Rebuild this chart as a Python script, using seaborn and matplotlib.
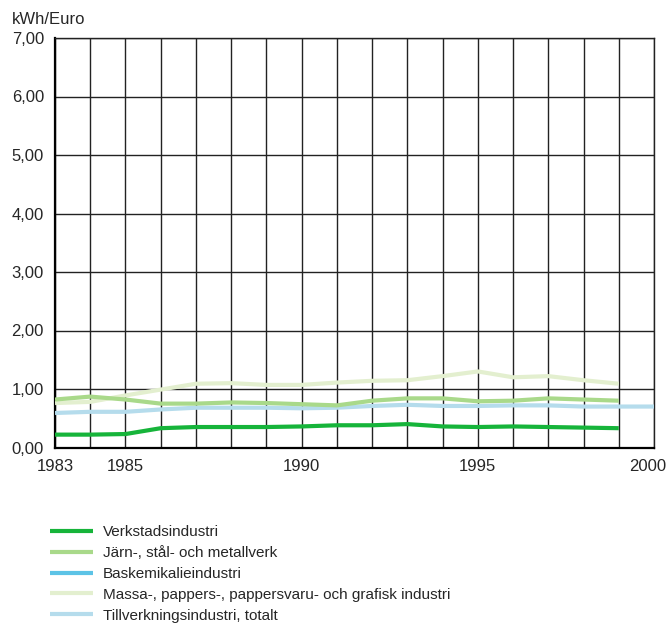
import pandas as pd
import numpy as np
import matplotlib
matplotlib.use("Agg")
import matplotlib.pyplot as plt
import matplotlib.transforms as mtransforms
from matplotlib.lines import Line2D
import seaborn as sns

years = list(range(1983, 2000))
years_total = list(range(1983, 2001))

verkstad = [0.22, 0.22, 0.23, 0.33, 0.35, 0.35, 0.35, 0.36, 0.38, 0.38, 0.40, 0.36, 0.35, 0.36, 0.35, 0.34, 0.33]
jarn = [0.82, 0.87, 0.82, 0.75, 0.75, 0.77, 0.76, 0.74, 0.72, 0.80, 0.84, 0.84, 0.79, 0.80, 0.84, 0.82, 0.80]
massa = [0.76, 0.78, 0.89, 0.99, 1.09, 1.10, 1.07, 1.07, 1.11, 1.14, 1.15, 1.22, 1.30, 1.20, 1.22, 1.15, 1.09]
totalt = [0.59, 0.61, 0.61, 0.65, 0.68, 0.68, 0.68, 0.67, 0.68, 0.71, 0.73, 0.71, 0.71, 0.72, 0.72, 0.70, 0.70, 0.70]

names = ["Verkstadsindustri",
         "Järn-, stål- och metallverk",
         "Baskemikalieindustri",
         "Massa-, pappers-, pappersvaru- och grafisk industri",
         "Tillverkningsindustri, totalt"]
colors = ["#16b43a", "#a9d98a", "#5cc3e6", "#e3efcf", "#b5dcec"]

frames = []
for name, xs, ys in [(names[4], years_total, totalt),
                     (names[3], years, massa),
                     (names[1], years, jarn),
                     (names[0], years, verkstad)]:
    frames.append(pd.DataFrame({"year": xs, "value": ys, "serie": name}))
df = pd.concat(frames)

sns.set_style("white")
plt.rcParams["font.family"] = ["Liberation Sans", "DejaVu Sans"]

fig = plt.figure(figsize=(6.71, 6.25), dpi=100)
ax = fig.add_axes([0.082, 0.284, 0.8927, 0.6552])

pal = dict(zip(names, colors))
sns.lineplot(data=df, x="year", y="value", hue="serie", palette=pal,
             linewidth=3.0, legend=False, ax=ax, zorder=3)
for ln in ax.lines:
    ln.set_solid_capstyle("butt")

ax.set_xlim(1983, 2000)
ax.set_ylim(0, 7)
ax.set_xticks(np.arange(1983, 2001), minor=True)
ax.set_xticks([1983, 1985, 1990, 1995, 2000])
ax.set_yticks(np.arange(0, 8))
ax.set_yticklabels([f"{v:.2f}".replace(".", ",") for v in range(0, 8)])
ax.grid(True, which="both", axis="x", color="#222222", linewidth=1.0)
ax.grid(True, axis="y", color="#222222", linewidth=1.0)
ax.tick_params(axis="both", which="both", length=0, labelsize=12)
ax.tick_params(axis="x", pad=8)
ax.tick_params(axis="y", pad=8)
ax.set_xlabel("")
ax.set_ylabel("")
for s in ["top", "right"]:
    ax.spines[s].set_color("#222222")
    ax.spines[s].set_linewidth(1.0)
for s in ["left", "bottom"]:
    ax.spines[s].set_color("black")
    ax.spines[s].set_linewidth(1.6)

# last year label sits a bit inside the figure edge
lab = ax.get_xticklabels()[-1]
lab.set_transform(lab.get_transform() + mtransforms.ScaledTranslation(-6 / 100, 0, fig.dpi_scale_trans))

fig.text(0.018, 0.968, "kWh/Euro", fontsize=12, va="center")

handles = [Line2D([], [], color=c, linewidth=3.0, solid_capstyle="butt") for c in colors]
fig.legend(handles, names, loc="upper left", bbox_to_anchor=(0.063, 0.172),
           frameon=False, fontsize=11, handlelength=2.8, labelspacing=0.45,
           handletextpad=0.65, borderpad=0)

fig.savefig("out.png", dpi=100)
